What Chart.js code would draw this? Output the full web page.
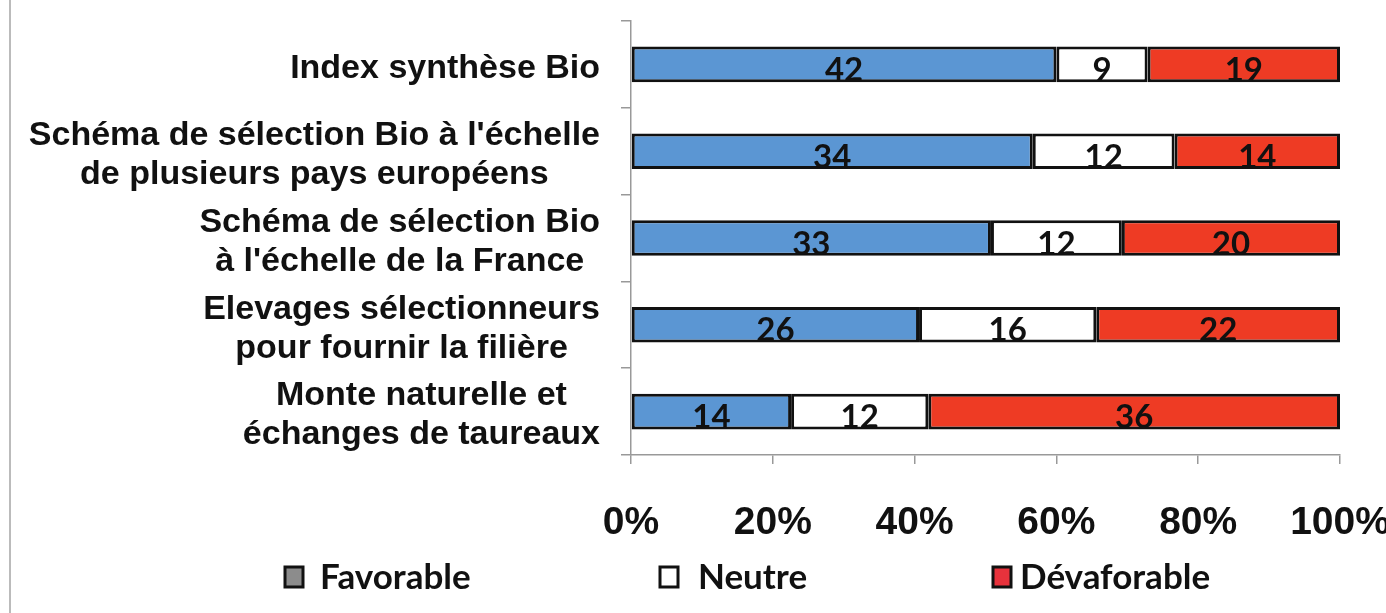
<!DOCTYPE html>
<html>
<head>
<meta charset="utf-8">
<script src="https://cdn.jsdelivr.net/npm/chart.js@4.4.1/dist/chart.umd.min.js"></script>
<style>
  html, body { margin: 0; padding: 0; background: #fff; }
  #cadre { width: 1386px; height: 613px; position: relative; }
</style>
</head>
<body>
<div id="cadre"><canvas id="graphique" width="1386" height="613"></canvas></div>
<script>
// Données (nombre de réponses)
var categories = [
  ["Index synthèse Bio"],
  ["Schéma de sélection Bio à l'échelle", "de plusieurs pays européens"],
  ["Schéma de sélection Bio", "à l'échelle de la France"],
  ["Elevages sélectionneurs", "pour fournir la filière"],
  ["Monte naturelle et", "échanges de taureaux"]
];
var favorable = [42, 34, 33, 26, 14];
var neutre = [9, 12, 12, 16, 12];
var defavorable = [19, 14, 20, 22, 36];
var tickLabels = ["0%", "20%", "40%", "60%", "80%", "100%"];
var legendLabels = ["Favorable", "Neutre", "Dévaforable"];

// 100 % empilé : on convertit chaque série en pourcentage du total de la ligne
function enPourcent(serie) {
  return serie.map(function(v, i) {
    var total = favorable[i] + neutre[i] + defavorable[i];
    return v / total * 100;
  });
}

var couleurs = ["#5b96d3", "#ffffff", "#ee3b24"];
var couleursLegende = ["#8c8c8c", "#ffffff", "#e8323c"];
var brut = [favorable, neutre, defavorable];

// Valeurs brutes écrites au centre de chaque segment
var etiquettesValeurs = {
  id: "etiquettesValeurs",
  afterDatasetsDraw: function(chart) {
    var ctx = chart.ctx;
    ctx.save();
    ctx.font = "bold 33px Lato";
    ctx.fillStyle = "#111";
    ctx.textAlign = "center";
    ctx.textBaseline = "middle";
    chart.data.datasets.forEach(function(ds, d) {
      chart.getDatasetMeta(d).data.forEach(function(el, i) {
        ctx.fillText(brut[d][i], (el.x + el.base) / 2, el.y + 6);
      });
    });
    ctx.restore();
  }
};

// Libellés de l'axe Y : bloc aligné à droite, lignes centrées entre elles
var libellesY = {
  id: "libellesY",
  afterDraw: function(chart) {
    var ctx = chart.ctx;
    var y = chart.scales.y;
    var bordDroit = 600, interligne = 39;
    ctx.save();
    ctx.font = "bold 34px 'Liberation Sans'";
    ctx.fillStyle = "#111";
    ctx.textAlign = "center";
    ctx.textBaseline = "middle";
    categories.forEach(function(lignes, i) {
      var largeur = Math.max.apply(null, lignes.map(function(l) { return ctx.measureText(l).width; }));
      var cx = bordDroit - largeur / 2;
      var cy = y.getPixelForValue(i) + 4 - (lignes.length - 1) * interligne / 2;
      lignes.forEach(function(l, k) { ctx.fillText(l, cx, cy + k * interligne); });
    });
    ctx.restore();
  }
};

// Légende dessinée à la main pour garder les grands écarts entre les éléments
var legendeBas = {
  id: "legendeBas",
  afterDraw: function(chart) {
    var ctx = chart.ctx;
    var xCarre = [285, 660, 993], xTexte = [320, 698, 1020];
    var yc = 577, cote = 18;
    ctx.save();
    ctx.font = "bold 35px Lato";
    ctx.textBaseline = "middle";
    ctx.textAlign = "left";
    legendLabels.forEach(function(txt, i) {
      ctx.fillStyle = couleursLegende[i];
      ctx.fillRect(xCarre[i], yc - 10, cote, cote + 2);
      ctx.lineWidth = 3;
      ctx.strokeStyle = "#111";
      ctx.strokeRect(xCarre[i], yc - 10, cote, cote + 2);
      ctx.fillStyle = "#111";
      ctx.fillText(txt, xTexte[i], yc + 1);
    });
    ctx.restore();
  }
};

// Trait gris du bord gauche de l'image d'origine
var bordGauche = {
  id: "bordGauche",
  beforeDraw: function(chart) {
    var ctx = chart.ctx;
    ctx.save();
    ctx.fillStyle = "#fff";
    ctx.fillRect(0, 0, chart.width, chart.height);
    ctx.fillStyle = "#bbb";
    ctx.fillRect(9, 0, 2, chart.height);
    ctx.restore();
  }
};

new Chart(document.getElementById("graphique").getContext("2d"), {
  type: "bar",
  data: {
    labels: categories,
    datasets: legendLabels.map(function(nom, d) {
      return {
        label: nom,
        data: enPourcent(brut[d]),
        backgroundColor: couleurs[d],
        borderColor: "#111",
        borderWidth: 3,
        borderSkipped: false,
        barPercentage: 0.41,
        categoryPercentage: 1
      };
    })
  },
  options: {
    indexAxis: "y",
    responsive: false,
    animation: false,
    layout: { padding: { top: 21, right: 46, bottom: 0, left: 0 } },
    plugins: {
      legend: { display: false },
      tooltip: { enabled: false }
    },
    scales: {
      x: {
        stacked: true,
        min: 0,
        max: 100,
        ticks: {
          stepSize: 20,
          color: "#111",
          font: { family: "'Liberation Sans'", weight: "bold", size: 39 },
          padding: 36,
          callback: function(v) { return tickLabels[v / 20]; }
        },
        grid: { drawOnChartArea: false, tickLength: 9, color: "#999", lineWidth: 1.5 },
        border: { color: "#999", width: 1.5 },
        afterFit: function(s) { s.height = 158; s.paddingRight = 0; s.paddingLeft = 0; }
      },
      y: {
        stacked: true,
        ticks: { display: false },
        grid: { drawOnChartArea: false, tickLength: 10, color: "#999", lineWidth: 1.5, offset: true },
        border: { color: "#999", width: 1.5 },
        afterFit: function(s) { s.width = 631; }
      }
    }
  },
  plugins: [bordGauche, etiquettesValeurs, libellesY, legendeBas]
});
</script>
</body>
</html>
